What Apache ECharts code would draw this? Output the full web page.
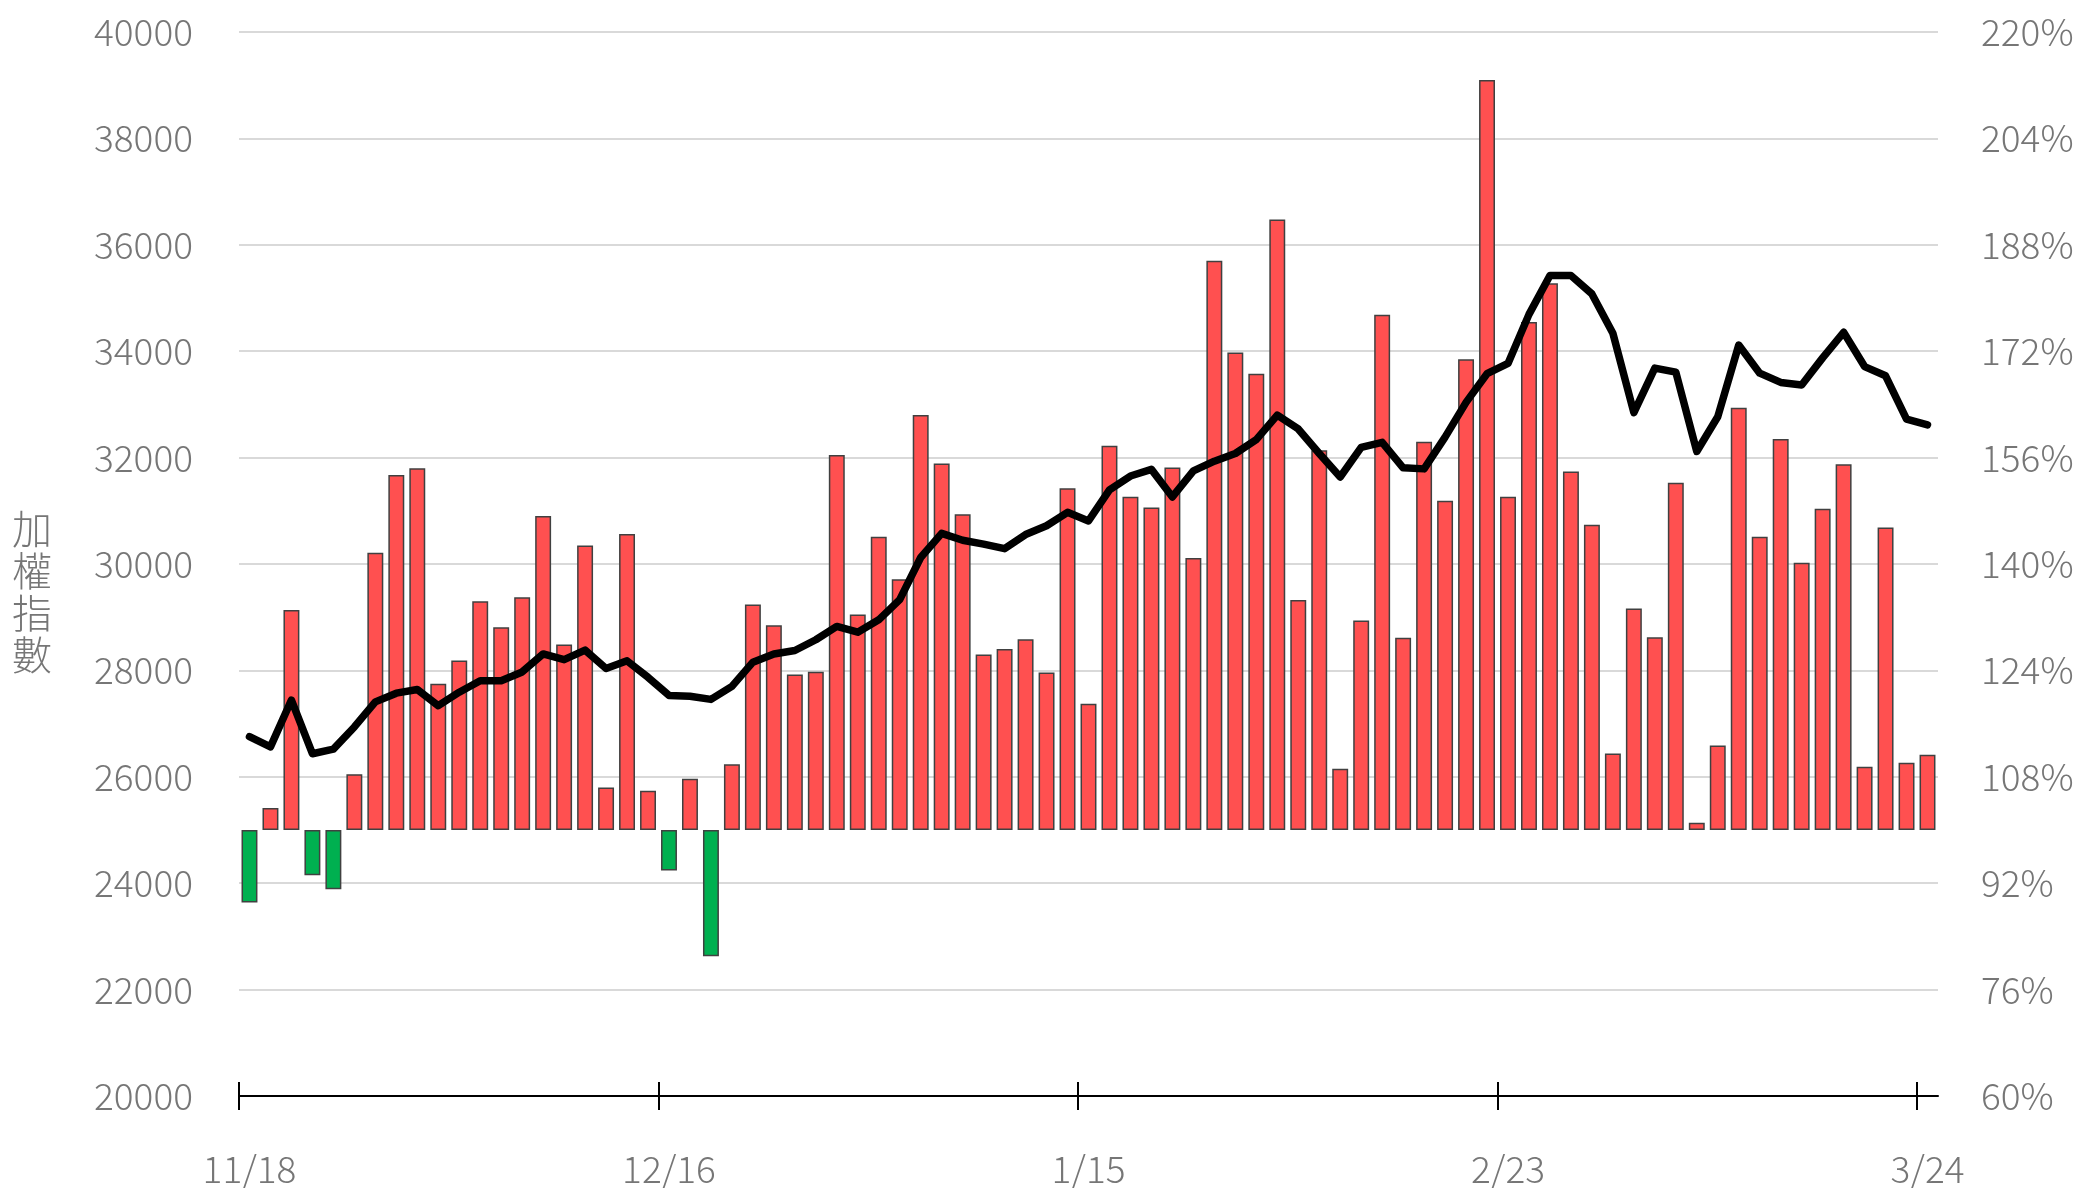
<!DOCTYPE html>
<html>
<head>
<meta charset="utf-8">
<script src="https://cdn.jsdelivr.net/npm/echarts@6/dist/echarts.min.js"></script>
<style>
  html, body { margin: 0; padding: 0; background: #fff; }
  #chart { width: 2079px; height: 1188px; }
</style>
</head>
<body>
<div id="chart"></div>
<script>
// trading days, 11/18 ~ 3/24
const dates = [
  '11/18','11/19','11/20','11/21','11/24','11/25','11/26','11/27','11/28',
  '12/1','12/2','12/3','12/4','12/5','12/8','12/9','12/10','12/11','12/12',
  '12/15','12/16','12/17','12/18','12/19','12/22','12/23','12/24','12/26',
  '12/29','12/30','12/31',
  '1/2','1/5','1/6','1/7','1/8','1/9','1/12','1/13','1/14','1/15','1/16',
  '1/19','1/20','1/21','1/22','1/23','1/26','1/27','1/28','1/29','1/30',
  '2/2','2/3','2/4','2/5','2/6','2/9','2/10','2/11','2/23','2/24','2/25','2/26',
  '3/2','3/3','3/4','3/5','3/6','3/9','3/10','3/11','3/12','3/13',
  '3/16','3/17','3/18','3/19','3/20','3/23','3/24'
]

// 加權指數 (left axis)
const taiex = [
  26756, 26563, 27442, 26434, 26520, 26937, 27409, 27572, 27640, 27337,
  27590, 27805, 27805, 27971, 28310, 28202, 28382, 28036, 28180, 27870,
  27530, 27515, 27455, 27700, 28155, 28309, 28374, 28576, 28827, 28719,
  28950, 29331, 30122, 30576, 30446, 30374, 30288, 30554, 30719, 30971,
  30810, 31394, 31654, 31779, 31260, 31750, 31933, 32077, 32337, 32798,
  32538, 32077, 31635, 32192, 32288, 31808, 31788, 32385, 33038, 33577,
  33770, 34692, 35423, 35423, 35077, 34337, 32846, 33683, 33606, 32115,
  32769, 34115, 33587, 33413, 33365, 33875, 34356, 33711, 33538, 32721,
  32615
]

// ratio in % (right axis), bars grow from 100%
const ratioPct = [
  89.1, 103.3, 133.1, 93.2, 91.1, 108.4, 141.7, 153.4, 154.4, 122.0,
  125.5, 134.4, 130.5, 135.0, 147.2, 127.9, 142.8, 106.4, 144.5, 105.9,
  93.9, 107.7, 81.0, 109.9, 133.9, 130.8, 123.4, 123.8, 156.4, 132.4,
  144.1, 137.7, 162.4, 155.1, 147.5, 126.4, 127.2, 128.7, 123.7, 151.4,
  119.0, 157.8, 150.1, 148.5, 154.5, 140.9, 185.6, 171.8, 168.6, 191.8,
  134.6, 157.1, 109.2, 131.5, 177.5, 128.9, 158.4, 149.5, 170.8, 212.8,
  150.1, 176.4, 182.2, 153.9, 145.9, 111.5, 133.3, 129.0, 152.2, 101.1,
  112.7, 163.5, 144.1, 158.8, 140.2, 148.3, 155.0, 109.5, 145.5, 110.1,
  111.3
]

const pctTicks = [60, 76, 92, 108, 124, 140, 156, 172, 188, 204, 220]
const dateTicks = [0, 20, 40, 60, 80]

const FONT = "'Noto Sans CJK TC', 'Noto Sans', sans-serif"
const GREY = '#767676'
const labelStyle = { color: GREY, fontSize: 37, fontFamily: FONT, fontWeight: 300 }

const chart = echarts.init(document.getElementById('chart'))

// bottom axis line + ticks crossing it (one axis draws the inner half, one the outer)
const tickAxis = inside => ({
  type: 'value',
  min: 0,
  max: dates.length,
  position: 'bottom',
  axisLine: { show: !inside, lineStyle: { color: '#000', width: 2 } },
  axisTick: {
    show: true,
    inside: inside,
    length: 14,
    customValues: dateTicks,
    lineStyle: { color: '#000', width: 2 }
  },
  axisLabel: { show: false },
  splitLine: { show: false }
})

chart.setOption({
  animation: false,
  grid: { left: 239, right: 141, top: 32, bottom: 92, containLabel: false },
  graphic: [{
    type: 'text',
    left: 12,
    top: 508,
    style: {
      text: '加\n權\n指\n數',
      fill: GREY,
      font: '300 40px ' + FONT,
      lineHeight: 42
    }
  }],
  xAxis: [
    {
      type: 'category',
      data: dates,
      position: 'bottom',
      axisLine: { show: false },
      axisTick: { show: false },
      axisLabel: {
        ...labelStyle,
        margin: 54,
        interval: i => dateTicks.includes(i)
      }
    },
    tickAxis(true),
    tickAxis(false)
  ],
  yAxis: [
    {
      type: 'value',
      min: 20000,
      max: 40000,
      interval: 2000,
      axisLine: { show: false },
      axisTick: { show: false },
      axisLabel: { ...labelStyle, margin: 46, formatter: v => String(v) },
      splitLine: { lineStyle: { color: '#d9d9d9', width: 2 } }
    },
    {
      type: 'value',
      min: pctTicks[0] - 100,
      max: pctTicks[pctTicks.length - 1] - 100,
      position: 'right',
      axisLine: { show: false },
      axisTick: { show: false },
      axisLabel: {
        ...labelStyle,
        margin: 43,
        customValues: pctTicks.map(p => p - 100),
        formatter: v => (v + 100) + '%'
      },
      splitLine: { show: false }
    }
  ],
  series: [
    {
      name: '比率',
      type: 'bar',
      xAxisIndex: 0,
      yAxisIndex: 1,
      barWidth: '76%',
      data: ratioPct.map(p => +(p - 100).toFixed(1)),
      itemStyle: {
        color: p => (p.value < 0 ? '#00b050' : '#ff5050'),
        borderColor: '#404040',
        borderWidth: 1.5
      }
    },
    {
      name: '加權指數',
      type: 'line',
      xAxisIndex: 0,
      yAxisIndex: 0,
      data: taiex,
      showSymbol: false,
      symbol: 'none',
      lineStyle: { color: '#000', width: 7.5, cap: 'round', join: 'round' },
      z: 5
    }
  ]
})
</script>
</body>
</html>
